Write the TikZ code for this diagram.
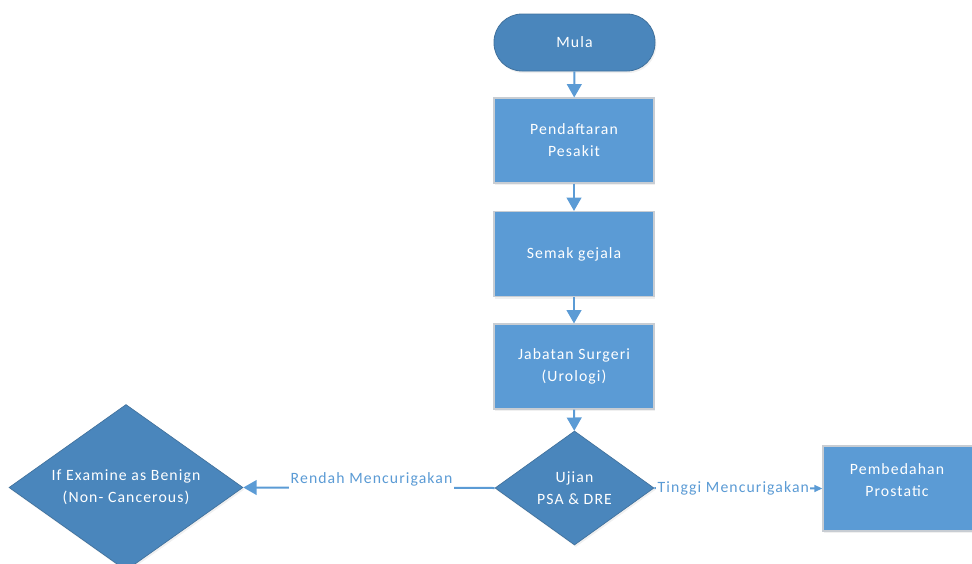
\documentclass[tikz,border=0pt]{standalone}
\usepackage{fontspec}
\setmainfont{Carlito}[LetterSpace=7]
\usetikzlibrary{shapes.geometric,arrows.meta,shadows}
\definecolor{boxblue}{HTML}{5B9BD5}
\definecolor{deepblue}{HTML}{4A86BC}
\definecolor{deepedge}{HTML}{41719C}
\definecolor{boxedge}{HTML}{C8CDD3}
\definecolor{linkblue}{HTML}{5B9BD5}
\begin{document}
\begin{tikzpicture}[x=0.75pt,y=-0.75pt,
  softshadow/.style={drop shadow={opacity=0.12,shadow xshift=1pt,shadow yshift=-1.5pt}},
  boxfont/.style={font=\fontsize{11.8}{16.5}\selectfont},
  terminal/.style={rectangle,rounded corners=21pt,fill=deepblue,draw=deepedge,line width=0.6pt,
    minimum width=120.75pt,minimum height=42.75pt,text=white,boxfont,softshadow},
  procbox/.style={rectangle,fill=boxblue,draw=boxedge,line width=0.8pt,
    minimum width=120pt,minimum height=63.75pt,text=white,align=center,boxfont,softshadow},
  decision/.style={diamond,fill=deepblue,draw=deepedge,line width=0.5pt,inner sep=0pt,
    text=white,align=center,boxfont,softshadow},
  flow/.style={draw=linkblue,line width=1.5pt,-{Triangle[width=11pt,length=10pt]}},
  flowsmall/.style={draw=linkblue,line width=1.5pt,-{Triangle[width=5pt,length=6pt]}},
  lbl/.style={text=linkblue,font=\fontsize{11.8}{13}\selectfont,fill=white,inner xsep=1pt}]
  \useasboundingbox (0,0) rectangle (972,564);

  % main column
  \node[terminal] (mula) at (574.5,42.5) {Mula};
  \node[procbox] (daftar) at (574,140.5) {Pendaftaran\\Pesakit};
  \node[procbox] (semak) at (574,254) {Semak gejala};
  \node[procbox] (jabatan) at (574,366.5) {Jabatan Surgeri\\(Urologi)};
  \node[decision,aspect=1.4,minimum width=119.25pt,minimum height=85.5pt] (ujian) at (574.5,488) {Ujian\\PSA \& DRE};

  % outcomes
  \node[decision,aspect=1.9,minimum width=175.5pt,minimum height=124.5pt] (benign) at (126,487.5)
    {If Examine as Benign\\(Non- Cancerous)};
  \node[procbox,minimum width=112.5pt] (bedah) at (898,488.5) {};
  \node[text=white,align=center,boxfont] (bedahtxt) at (897,480)
    {Pembedahan\\Prostatic};

  % connectors
  \draw[flow] (mula) -- (daftar);
  \draw[flow] (daftar) -- (semak);
  \draw[flow] (semak) -- (jabatan);
  \draw[flow] (jabatan) -- (ujian);
  \draw[flow] (ujian.west) -- node[lbl,yshift=6pt,minimum height=15pt,pos=0.49] {Rendah Mencurigakan} (benign.east);
  \draw[flowsmall] (ujian.east) -- node[lbl,inner ysep=1pt,pos=0.47] {Tinggi Mencurigakan} (bedah.west);
\end{tikzpicture}
\end{document}
